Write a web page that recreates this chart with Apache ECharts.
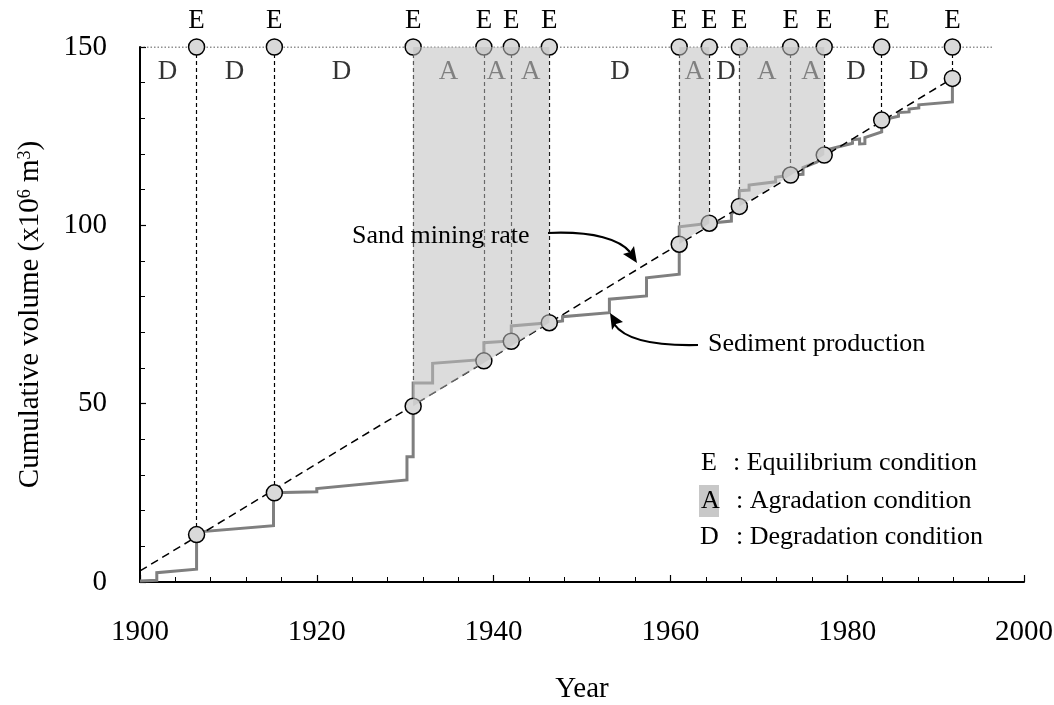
<!DOCTYPE html>
<html>
<head>
<meta charset="utf-8">
<script src="https://cdn.jsdelivr.net/npm/echarts@6/dist/echarts.min.js"></script>
<style>
  html, body { margin: 0; padding: 0; background: #fff; }
  #chart { width: 1054px; height: 705px; }
</style>
</head>
<body>
<div id="chart"></div>
<script>
// equilibrium points (E): year and cumulative volume where the two curves meet
const eqYears = [1906.4, 1915.2, 1930.9, 1938.9, 1942.0, 1946.3, 1961.0, 1964.4, 1967.8, 1973.6, 1977.4, 1983.9, 1991.9]
const eqVolumes = [13.3, 25.0, 49.3, 62.0, 67.5, 72.7, 94.7, 100.6, 105.3, 114.1, 119.7, 129.5, 141.2]
const topLevel = 150

// sand mining rate (straight dashed line)
const sandMining = [[1900, 3.1], [1991.9, 141.2]]

// sediment production (step curve)
const sedimentProduction = [
  [1900.0, 0.3], [1901.9, 0.5], [1901.9, 2.6], [1906.4, 3.6], [1906.4, 14.0],
  [1915.1, 15.8], [1915.1, 25.0], [1920.0, 25.3], [1920.0, 26.2], [1930.2, 28.6], [1930.2, 35.1],
  [1930.9, 35.1], [1930.9, 55.8], [1933.1, 55.8], [1933.1, 61.3], [1938.9, 62.4], [1938.9, 67.1],
  [1942.0, 67.6], [1942.0, 71.8], [1946.3, 72.7], [1947.8, 73.2], [1947.8, 74.4], [1953.1, 75.5], [1953.1, 79.3],
  [1957.3, 80.2], [1957.3, 85.3], [1961.0, 86.3], [1961.0, 99.6], [1964.4, 100.6], [1966.9, 101.2], [1966.9, 103.2],
  [1967.8, 105.1], [1967.8, 109.7], [1968.9, 109.9], [1968.9, 111.3], [1971.9, 112.2], [1971.9, 113.5], [1973.6, 114.1],
  [1975.0, 114.3], [1975.0, 116.2], [1976.6, 117.8], [1977.4, 119.7], [1977.9, 121.3], [1980.6, 123.0], [1980.6, 124.0],
  [1981.4, 124.2], [1981.4, 122.8], [1982.0, 122.9], [1982.0, 124.6], [1983.9, 126.2], [1983.9, 129.5], [1985.8, 130.6],
  [1985.8, 131.6], [1987.0, 131.8], [1987.0, 132.6], [1988.1, 132.9], [1988.1, 133.8], [1991.9, 134.6], [1991.9, 141.2]
]

// aggradation spans: [startYear, startVolume, endYear, endVolume]
const aggradationSpans = [
  [1930.9, 49.3, 1946.3, 72.7],
  [1961.0, 94.7, 1964.4, 100.6],
  [1967.8, 105.3, 1977.4, 119.7]
]

// condition letters between the E points
const letterYears = [1903.1, 1910.7, 1922.8, 1934.9, 1940.3, 1944.2, 1954.3, 1962.7, 1966.3, 1970.9, 1975.9, 1981.0, 1988.1]
const letterTexts = ['D', 'D', 'D', 'A', 'A', 'A', 'D', 'A', 'D', 'A', 'A', 'D', 'D']
const letterLevel = 143

const FONT = '"Liberation Serif", "Times New Roman", serif'

const chart = echarts.init(document.getElementById('chart'))

function txt (text, x, y, size, align) {
  return {
    type: 'text',
    style: {
      text: text, x: x, y: y,
      font: size + 'px ' + FONT,
      fill: '#000',
      align: align || 'left', textAlign: align || 'left',
      verticalAlign: 'middle', textVerticalAlign: 'middle'
    },
    z: 50
  }
}

const option = {
  animation: false,
  backgroundColor: '#fff',
  grid: { left: 140, right: 30, top: 47, bottom: 123, containLabel: false, outerBoundsMode: 'none' },
  xAxis: {
    type: 'value',
    min: 1900,
    max: 2000,
    interval: 20,
    name: 'Year',
    nameLocation: 'middle',
    nameGap: 93,
    nameTextStyle: { fontFamily: FONT, fontSize: 29, color: '#000' },
    axisLine: { lineStyle: { color: '#000', width: 2 } },
    axisTick: { inside: true, length: 7, lineStyle: { color: '#000', width: 1.2 } },
    minorTick: { show: true, splitNumber: 5, length: 5, lineStyle: { color: '#000', width: 1 } },
    axisLabel: {
      fontFamily: FONT, fontSize: 29, color: '#000', margin: 36,
      formatter: v => String(v)
    },
    splitLine: { show: false }
  },
  yAxis: {
    type: 'value',
    min: 0,
    max: 150,
    interval: 50,
    name: '{a|Cumulative volume (x10}{s|6}{a| m}{s|3}{a|)}',
    nameLocation: 'middle',
    nameGap: 95,
    nameTextStyle: {
      rich: {
        a: { fontFamily: FONT, fontSize: 29, color: '#000' },
        s: { fontFamily: FONT, fontSize: 18, color: '#000', verticalAlign: 'top' }
      }
    },
    axisLine: { lineStyle: { color: '#000', width: 2 } },
    axisTick: { inside: true, length: 6, lineStyle: { color: '#000', width: 1.2 } },
    minorTick: { show: true, splitNumber: 5, length: 5, lineStyle: { color: '#000', width: 1 } },
    axisLabel: { fontFamily: FONT, fontSize: 29, color: '#000', margin: 33 },
    splitLine: { show: false }
  },
  series: [
    {
      name: 'top level',
      type: 'line',
      data: [[1900, topLevel], [1996.5, topLevel]],
      symbol: 'none',
      lineStyle: { color: '#222', width: 1.2, type: [1.5, 2] },
      z: 2
    },
    {
      name: 'E verticals',
      type: 'lines',
      coordinateSystem: 'cartesian2d',
      data: eqYears.map((x, i) => ({ coords: [[x, topLevel], [x, eqVolumes[i]]] })),
      lineStyle: { color: '#000', width: 1.2, type: [4, 3], opacity: 1 },
      z: 2
    },
    {
      name: 'Sediment production',
      type: 'line',
      data: sedimentProduction,
      symbol: 'none',
      lineStyle: { color: '#7f7f7f', width: 3, join: 'miter' },
      z: 3
    },
    {
      name: 'Sand mining rate',
      type: 'line',
      data: sandMining,
      symbol: 'none',
      lineStyle: { color: '#000', width: 1.5, type: [8, 5] },
      z: 3
    },
    {
      name: 'E top',
      type: 'scatter',
      data: eqYears.map(x => [x, topLevel]),
      symbol: 'circle',
      symbolSize: 16,
      itemStyle: { color: '#d9d9d9', borderColor: '#000', borderWidth: 1.5, opacity: 1 },
      label: {
        show: true, position: 'top', distance: 4, formatter: 'E',
        fontFamily: FONT, fontSize: 27, color: '#000'
      },
      z: 4
    },
    {
      name: 'E bottom',
      type: 'scatter',
      data: eqYears.map((x, i) => [x, eqVolumes[i]]),
      symbol: 'circle',
      symbolSize: 16,
      itemStyle: { color: '#d9d9d9', borderColor: '#000', borderWidth: 1.5, opacity: 1 },
      z: 4
    },
    {
      name: 'letters',
      type: 'scatter',
      data: letterYears.map((x, i) => ({ value: [x, letterLevel], name: letterTexts[i] })),
      symbolSize: 0,
      label: {
        show: true, position: 'inside', formatter: '{b}',
        fontFamily: FONT, fontSize: 27, color: '#000'
      },
      z: 4
    },
    {
      name: 'Aggradation',
      type: 'custom',
      data: aggradationSpans,
      renderItem: function (params, api) {
        const x0 = api.value(0), y0 = api.value(1), x1 = api.value(2), y1 = api.value(3)
        return {
          type: 'polygon',
          shape: {
            points: [
              api.coord([x0, topLevel]), api.coord([x1, topLevel]),
              api.coord([x1, y1]), api.coord([x0, y0])
            ]
          },
          style: { fill: 'rgba(192,192,192,0.55)' }
        }
      },
      z: 10
    }
  ],
  graphic: [
    // annotation: sand mining rate
    txt('Sand mining rate', 352, 236, 26),
    {
      type: 'bezierCurve',
      shape: { x1: 548, y1: 233, cpx1: 595, cpy1: 231, cpx2: 620, cpy2: 240, x2: 630, y2: 252 },
      style: { stroke: '#000', lineWidth: 2.2, fill: null },
      z: 50
    },
    {
      type: 'polygon',
      shape: { points: [[637, 263], [623, 254], [630, 252], [634, 246]] },
      style: { fill: '#000' },
      z: 50
    },
    // annotation: sediment production
    txt('Sediment production', 708, 344, 26),
    {
      type: 'bezierCurve',
      shape: { x1: 698, y1: 345, cpx1: 655, cpy1: 346, cpx2: 625, cpy2: 340, x2: 614, y2: 324 },
      style: { stroke: '#000', lineWidth: 2.2, fill: null },
      z: 50
    },
    {
      type: 'polygon',
      shape: { points: [[610, 313], [623, 322], [616, 324], [612, 330]] },
      style: { fill: '#000' },
      z: 50
    },
    // key
    txt('E', 701, 463, 26),
    txt(': Equilibrium condition', 733, 463, 26),
    {
      type: 'rect',
      shape: { x: 699, y: 485, width: 20, height: 32 },
      style: { fill: '#c8c8c8' },
      z: 49
    },
    txt('A', 701, 501, 26),
    txt(': Agradation condition', 736, 501, 26),
    txt('D', 700, 537, 26),
    txt(': Degradation condition', 736, 537, 26)
  ]
}

chart.setOption(option)
</script>
</body>
</html>
